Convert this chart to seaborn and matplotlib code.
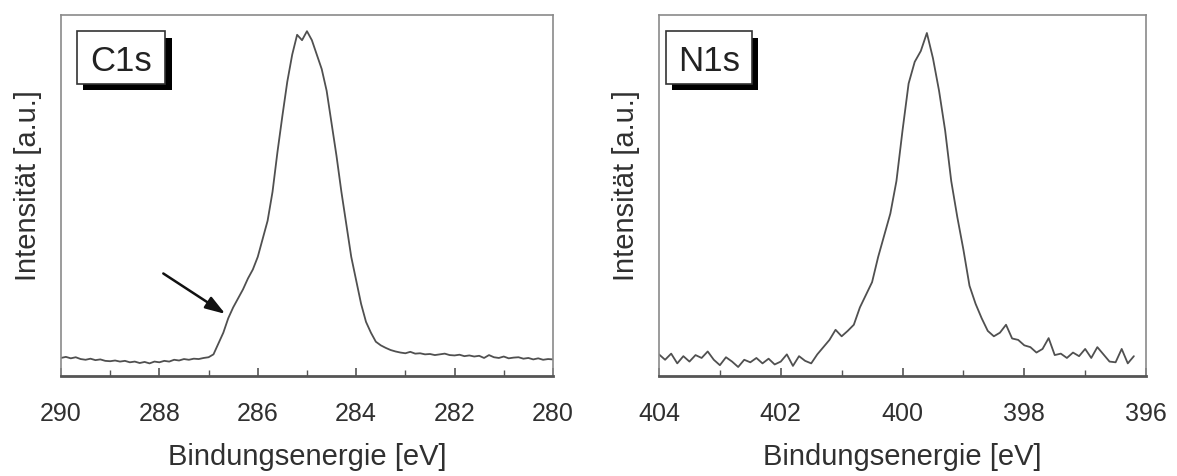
import numpy as np
import pandas as pd
import matplotlib
matplotlib.use("Agg")
import matplotlib.pyplot as plt
import matplotlib.patheffects as pe
from matplotlib.patches import Rectangle
from matplotlib.ticker import MultipleLocator
import seaborn as sns

# C1s spectrum: 290.0 -> 280.0 eV, 0.1 eV steps
c1s_start, c1s_step = 290.0, 0.1
c1s_intensity = [
    0.050, 0.053, 0.049, 0.052, 0.047, 0.045, 0.048, 0.044, 0.046, 0.042,
    0.041, 0.043, 0.040, 0.042, 0.038, 0.040, 0.036, 0.039, 0.035, 0.040,
    0.038, 0.042, 0.040, 0.045, 0.043, 0.047, 0.045, 0.048, 0.047, 0.050,
    0.052, 0.060, 0.090, 0.120, 0.160, 0.190, 0.215, 0.240, 0.270, 0.295,
    0.330, 0.380, 0.430, 0.510, 0.620, 0.720, 0.815, 0.890, 0.945, 0.930,
    0.955, 0.930, 0.890, 0.850, 0.790, 0.700, 0.610, 0.510, 0.420, 0.330,
    0.265, 0.200, 0.150, 0.120, 0.095, 0.085, 0.078, 0.072, 0.068, 0.065,
    0.063, 0.067, 0.062, 0.063, 0.060, 0.061, 0.058, 0.060, 0.062, 0.058,
    0.057, 0.059, 0.055, 0.057, 0.054, 0.056, 0.050, 0.058, 0.052, 0.050,
    0.054, 0.049, 0.051, 0.052, 0.048, 0.050, 0.046, 0.049, 0.045, 0.047,
    0.046,
]

# N1s spectrum: 404.0 -> 396.2 eV, 0.1 eV steps
n1s_start, n1s_step = 404.0, 0.1
n1s_intensity = [
    0.060, 0.045, 0.062, 0.035, 0.055, 0.040, 0.058, 0.050, 0.068, 0.045,
    0.030, 0.052, 0.040, 0.025, 0.045, 0.038, 0.050, 0.035, 0.048, 0.032,
    0.040, 0.060, 0.028, 0.055, 0.042, 0.035, 0.060, 0.080, 0.100, 0.128,
    0.110, 0.125, 0.142, 0.190, 0.225, 0.260, 0.330, 0.390, 0.450, 0.540,
    0.680, 0.810, 0.870, 0.900, 0.950, 0.880, 0.790, 0.680, 0.540, 0.440,
    0.350, 0.250, 0.200, 0.160, 0.125, 0.110, 0.120, 0.142, 0.104, 0.100,
    0.085, 0.080, 0.065, 0.075, 0.105, 0.058, 0.062, 0.050, 0.065, 0.055,
    0.075, 0.050, 0.080, 0.060, 0.040, 0.038, 0.075, 0.035, 0.055,
]

panel_labels = ["C1s", "N1s"]
x_limits = [(290, 280), (404, 396)]
x_label = "Bindungsenergie [eV]"
y_label = "Intensität [a.u.]"

c1s = pd.DataFrame({
    "energy": np.round(c1s_start - c1s_step * np.arange(len(c1s_intensity)), 2),
    "intensity": c1s_intensity,
})
n1s = pd.DataFrame({
    "energy": np.round(n1s_start - n1s_step * np.arange(len(n1s_intensity)), 2),
    "intensity": n1s_intensity,
})

sns.set_theme(style="white")
plt.rcParams["font.family"] = ["Liberation Sans", "DejaVu Sans"]

fig = plt.figure(figsize=(11.77, 4.77), dpi=100)
ax_c = fig.add_axes([0.0518, 0.2096, 0.4180, 0.757])
ax_n = fig.add_axes([0.5599, 0.2096, 0.4138, 0.757])

text_color = "#303030"
line_color = "#505050"

# label boxes (axes fraction: x0, y0, width, height)
label_boxes = [(0.032, 0.810, 0.180, 0.146), (0.014, 0.810, 0.177, 0.146)]

for ax, df, label, xlim, (bx, by, bw, bh) in zip(
        [ax_c, ax_n], [c1s, n1s], panel_labels, x_limits, label_boxes):
    sns.lineplot(data=df, x="energy", y="intensity", ax=ax,
                 color=line_color, linewidth=1.3, sort=False, estimator=None)
    ax.set_xlim(*xlim)
    ax.set_ylim(0, 1)
    ax.set_yticks([])
    ax.xaxis.set_major_locator(MultipleLocator(2))
    ax.xaxis.set_minor_locator(MultipleLocator(1))
    ax.tick_params(axis="x", which="major", direction="in", length=6, width=1.2,
                   colors="#555555", labelcolor=text_color, labelsize=18, pad=18,
                   bottom=True)
    ax.tick_params(axis="x", which="minor", direction="in", length=4, width=1.0,
                   colors="#555555", bottom=True)
    ax.set_xlabel(x_label, fontsize=21, color=text_color, labelpad=12)
    ax.set_ylabel(y_label, fontsize=21, color=text_color, labelpad=14, y=0.53)
    for side in ["top", "right", "left"]:
        ax.spines[side].set_color("#8a8a8a")
        ax.spines[side].set_linewidth(1.2)
    ax.spines["bottom"].set_color("#555555")
    ax.spines["bottom"].set_linewidth(2.0)

    # framed label with a solid drop shadow
    rect = Rectangle((bx, by), bw, bh, transform=ax.transAxes,
                     facecolor="white", edgecolor="#333333", linewidth=1.2,
                     zorder=5)
    rect.set_path_effects([
        pe.SimplePatchShadow(offset=(4.5, -5), shadow_rgbFace="black", alpha=1.0),
        pe.Normal(),
    ])
    ax.add_patch(rect)
    ax.text(bx + bw / 2, by + bh / 2, label, transform=ax.transAxes,
            fontsize=25, color="#222222", ha="center", va="center_baseline",
            zorder=6)

# arrow marking the low-energy shoulder of the C1s peak
ax_c.annotate("", xy=(286.66, 0.172), xytext=(287.92, 0.284),
              arrowprops=dict(arrowstyle="-|>,head_length=0.6,head_width=0.2",
                              color="#111111", lw=1.8,
                              mutation_scale=20, shrinkA=0, shrinkB=0))

fig.savefig("out.png", dpi=100)
